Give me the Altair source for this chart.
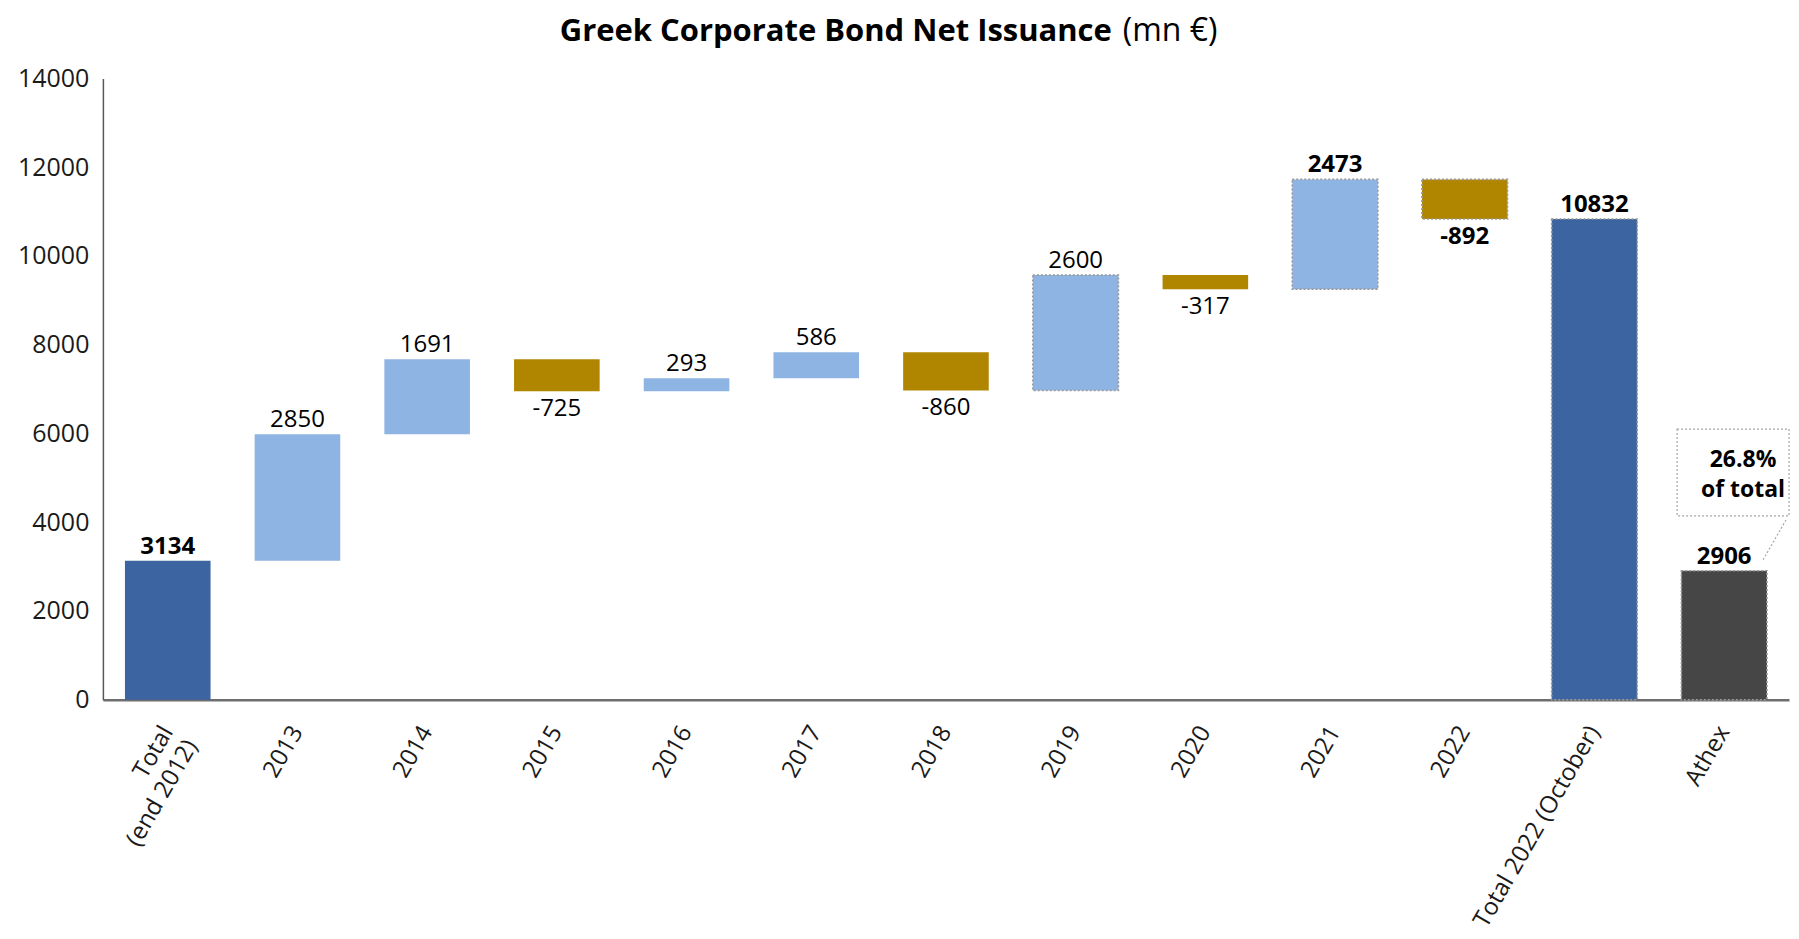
import altair as alt
import pandas as pd

# ---- data ----
categories = ["Total\n(end 2012)", "2013", "2014", "2015", "2016", "2017", "2018",
              "2019", "2020", "2021", "2022", "Total 2022 (October)", "Athex"]
values = [3134, 2850, 1691, -725, 293, 586, -860, 2600, -317, 2473, -892, 10832, 2906]
kinds = ["total", "up", "up", "down", "up", "up", "down", "up", "down", "up", "down", "total", "athex"]
dotted = [False, False, False, False, False, False, False, True, False, True, True, True, True]
bold = [True, False, False, False, False, False, False, False, False, True, True, True, True]
annotation_lines = ["26.8%", "of total"]
y_ticks = [0, 2000, 4000, 6000, 8000, 10000, 12000, 14000]

# waterfall geometry derived from the values
starts, ends = [], []
running = 0
for v, k in zip(values, kinds):
    if k in ("total", "athex"):
        s, e = 0, v
        if k == "total":
            running = v
    else:
        s, e = running, running + v
        running = e
    starts.append(s)
    ends.append(e)

df = pd.DataFrame({
    "cat": categories,
    "value": values,
    "kind": kinds,
    "start": starts,
    "end": ends,
    "dotted": ["yes" if d else "no" for d in dotted],
    "bold": bold,
    "label": [str(v) for v in values],
})
df["top"] = df[["start", "end"]].max(axis=1)
df["bottom"] = df[["start", "end"]].min(axis=1)

FONT = "Open Sans"
W, H = 1688, 622

xenc = alt.X("cat:N", sort=categories, title=None,
             scale=alt.Scale(paddingInner=0.34, paddingOuter=0.17),
             axis=alt.Axis(labelAngle=-60, labelFontSize=24, labelFont=FONT, labelColor="#1a1a1a",
                           labelLimit=400, labelOverlap=False, labelPadding=28,
                           labelExpr="split(datum.label, '\\n')", labelLineHeight=28,
                           ticks=False, domainColor="#6e6e6e", domainWidth=2.5))
yscale = alt.Scale(domain=[0, 14000], nice=False)

base = alt.Chart(df)

bars = base.mark_bar(strokeDash=[2, 2], strokeWidth=1.6).encode(
    x=xenc,
    y=alt.Y("start:Q", scale=yscale, title=None,
            axis=alt.Axis(values=y_ticks, format="d", grid=False, ticks=False, labelFontSize=25,
                          labelFont=FONT, labelColor="#1a1a1a", labelPadding=14,
                          domainColor="#595959", domainWidth=1.5)),
    y2="end:Q",
    color=alt.Color("kind:N", legend=None,
                    scale=alt.Scale(domain=["total", "up", "down", "athex"],
                                    range=["#3B64A0", "#8EB4E3", "#B08600", "#464646"])),
    stroke=alt.Stroke("dotted:N", legend=None,
                      scale=alt.Scale(domain=["yes", "no"], range=["#9a9a9a", "transparent"])),
)


def labels(positive, is_bold):
    cond = ("datum.value >= 0" if positive else "datum.value < 0") + \
           (" && datum.bold" if is_bold else " && !datum.bold")
    return base.transform_filter(cond).mark_text(
        font=FONT, fontSize=24, fontWeight="bold" if is_bold else "normal", color="#000000",
        baseline="alphabetic" if positive else "top",
        dy=-7 if positive else 6,
    ).encode(
        x=alt.X("cat:N", sort=categories),
        y=alt.Y("top:Q" if positive else "bottom:Q", scale=yscale),
        text="label:N",
    )


label_layers = [labels(p, b) for p in (True, False) for b in (True, False)]

one = alt.Chart(pd.DataFrame({"t": ["Greek Corporate Bond Net Issuance"], "u": ["(mn €)"],
                              "a": [annotation_lines[0]], "b": [annotation_lines[1]]}))
title_bold = one.mark_text(font=FONT, fontSize=31, fontWeight="bold", align="right",
                           baseline="alphabetic", color="#000000").encode(
    x=alt.value(1010), y=alt.value(-37), text="t:N")
title_reg = one.mark_text(font=FONT, fontSize=32, fontWeight="normal", align="left",
                          baseline="alphabetic", color="#000000").encode(
    x=alt.value(1021), y=alt.value(-37), text="u:N")

ann_box = one.mark_rect(fill="white", stroke="#a6a6a6", strokeDash=[2, 2], strokeWidth=1.2).encode(
    x=alt.value(1576), x2=alt.value(1688), y=alt.value(351), y2=alt.value(438))
ann_line = one.mark_rule(stroke="#a6a6a6", strokeDash=[2, 2], strokeWidth=1.2).encode(
    x=alt.value(1685), x2=alt.value(1662), y=alt.value(442), y2=alt.value(482))
ann_t1 = one.mark_text(font=FONT, fontSize=23, fontWeight="bold", color="#000000",
                       baseline="middle").encode(x=alt.value(1642), y=alt.value(382), text="a:N")
ann_t2 = one.mark_text(font=FONT, fontSize=23, fontWeight="bold", color="#000000",
                       baseline="middle").encode(x=alt.value(1642), y=alt.value(412), text="b:N")

chart = alt.layer(bars, *label_layers, title_bold, title_reg, ann_box, ann_line, ann_t1, ann_t2).properties(
    width=W, height=H,
    autosize=alt.AutoSizeParams(type="none"),
    padding={"left": 95, "top": 70, "right": 2, "bottom": 238},
).configure_view(stroke=None)

chart.save("out.html", embed_options={"renderer": "svg", "actions": False})
